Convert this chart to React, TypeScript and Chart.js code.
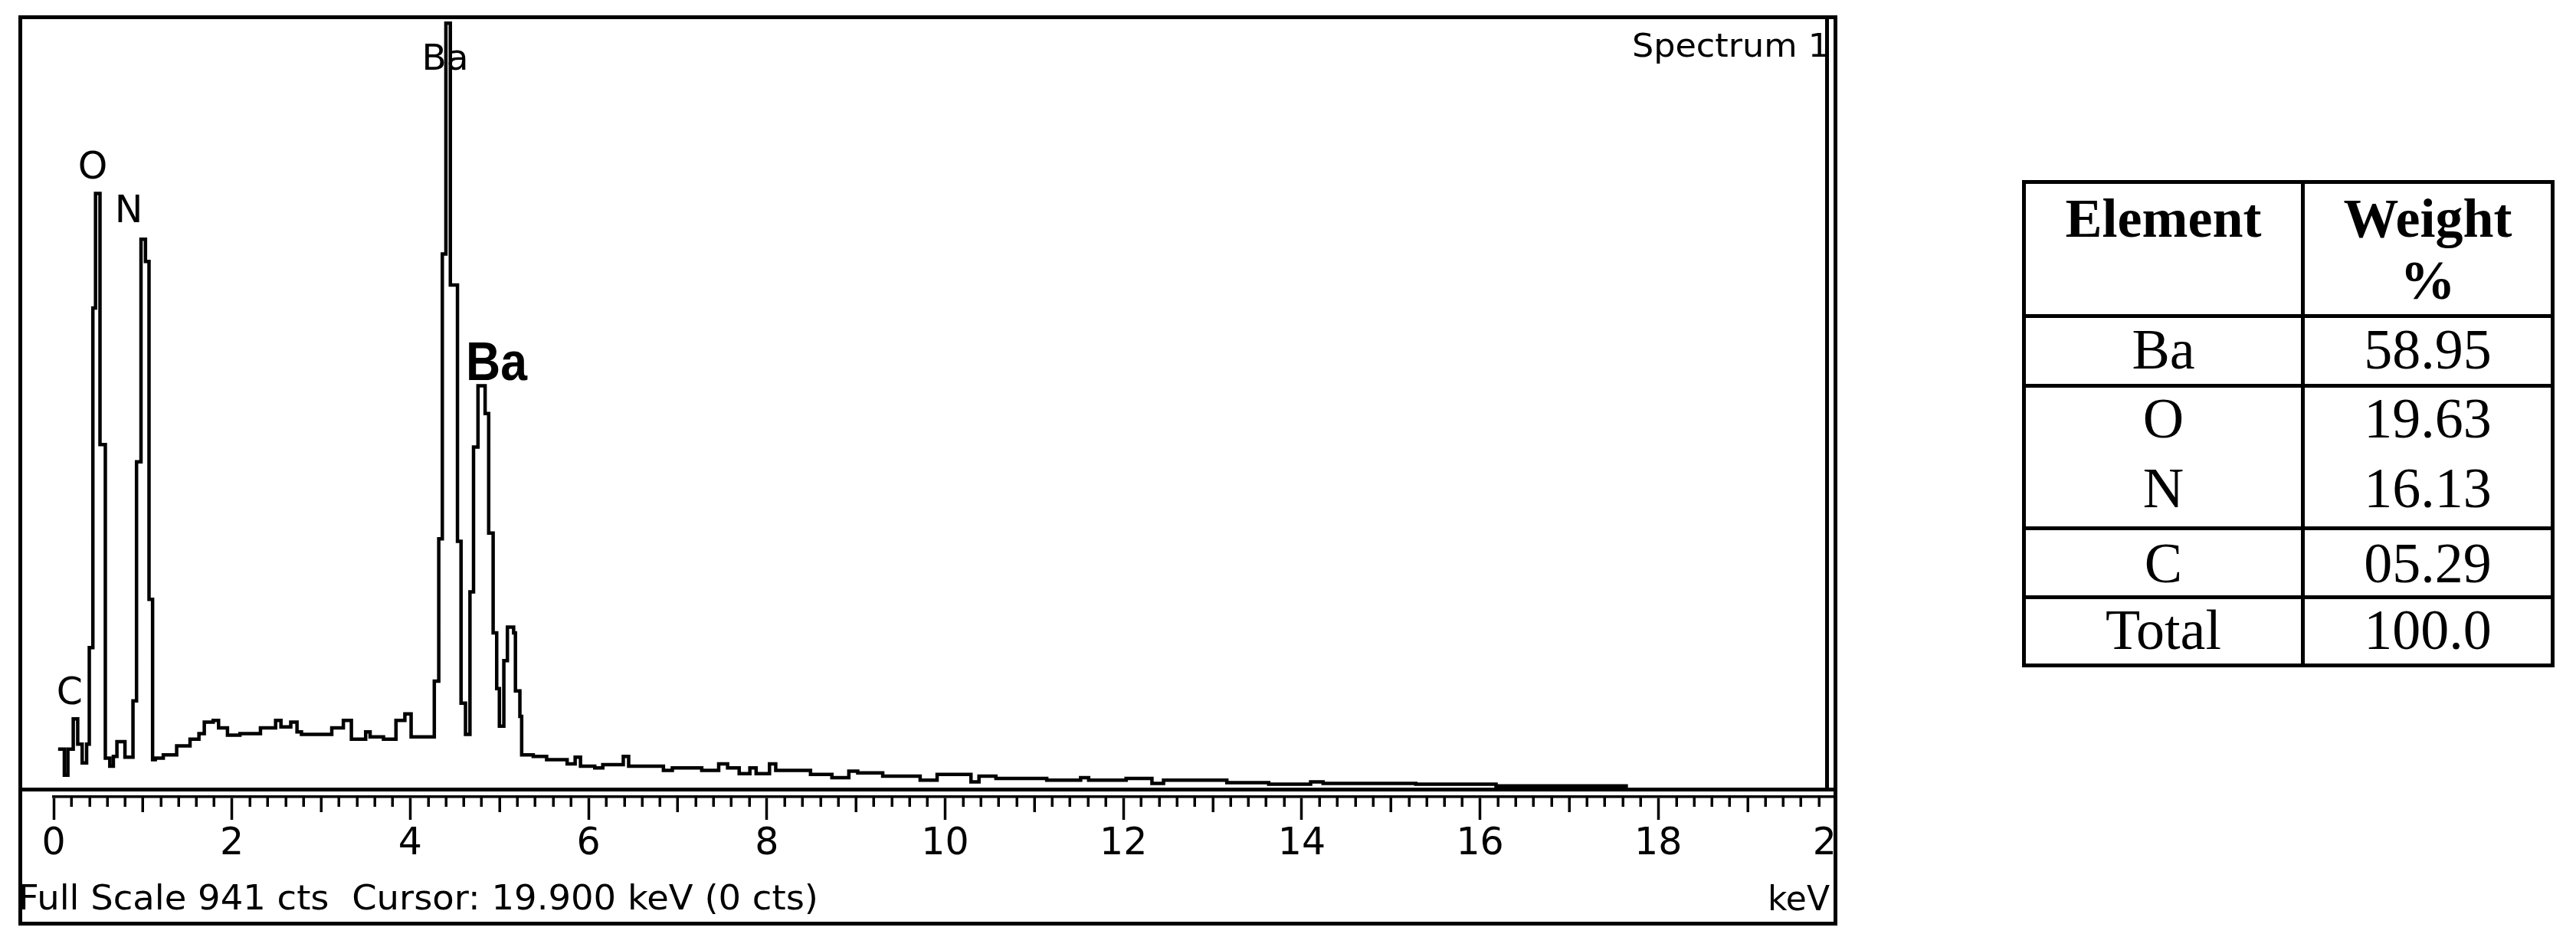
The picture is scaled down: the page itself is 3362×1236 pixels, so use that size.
import React, { useEffect, useRef } from 'react';
import { Chart, registerables } from 'chart.js';

Chart.register(...registerables);

// ---------- data ----------
const energyKeV = [
  0.05, 0.12, 0.16, 0.22, 0.27, 0.32, 0.37, 0.40, 0.44, 0.47,
  0.52, 0.58, 0.63, 0.67, 0.71, 0.80, 0.89, 0.93, 0.98, 1.03,
  1.07, 1.11, 1.14, 1.23, 1.38, 1.53, 1.63, 1.69, 1.79, 1.85,
  1.95, 2.09, 2.32, 2.49, 2.55, 2.66, 2.73, 2.78, 3.12, 3.25,
  3.34, 3.50, 3.55, 3.70, 3.84, 3.94, 4.01, 4.27, 4.32, 4.36,
  4.40, 4.45, 4.53, 4.57, 4.62, 4.67, 4.71, 4.76, 4.84, 4.88,
  4.93, 4.97, 5.00, 5.05, 5.09, 5.16, 5.18, 5.23, 5.25, 5.38,
  5.53, 5.76, 5.85, 5.91, 6.07, 6.16, 6.39, 6.45, 6.84, 6.94,
  7.27, 7.46, 7.56, 7.69, 7.81, 7.88, 8.03, 8.10, 8.49, 8.73,
  8.92, 9.02, 9.30, 9.72, 9.91, 10.29, 10.38, 10.57, 11.14, 11.52,
  11.61, 12.03, 12.32, 12.45, 13.16, 13.63, 14.10, 14.24, 15.28, 16.18,
  17.64,
];
const countsCts = [
  49, 17, 49, 86, 55, 32, 55, 173, 588, 728,
  421, 38, 28, 40, 58, 39, 108, 400, 672, 645,
  232, 36, 38, 42, 53, 61, 68, 82, 84, 75,
  66, 68, 75, 84, 76, 82, 70, 67, 75, 84,
  61, 70, 64, 61, 84, 92, 64, 132, 306, 654,
  936, 616, 303, 105, 67, 241, 418, 493, 459, 313,
  191, 123, 77, 157, 198, 191, 120, 89, 42, 40,
  36, 31, 39, 28, 26, 30, 40, 28, 23, 26,
  23, 31, 26, 19, 26, 19, 31, 23, 18, 14,
  22, 20, 16, 11, 18, 9, 16, 13, 11, 14,
  11, 13, 7, 11, 8, 6, 9, 7, 6, 4,
  0,
];
const fullScaleCts = 941;
const axisMinKeV = 0;
const axisMaxKeV = 20;
const majorStepKeV = 2;
const minorStepKeV = 0.2;

const peakLabels = ['C', 'O', 'N', 'Ba'];
const peakLabelKeV = [0.18, 0.438, 0.842, 4.392];
const peakLabelCts = [104, 746, 693, 879];
const boldLabel = 'Ba';
const boldLabelKeV = 4.968;
const boldLabelCts = 500;

const spectrumTitle = 'Spectrum 1';
const statusText = 'Full Scale 941 cts  Cursor: 19.900 keV (0 cts)';
const unitText = 'keV';

const tableHeader = ['Element', 'Weight', '%'];
const tableElements = ['Ba', 'O', 'N', 'C', 'Total'];
const tableWeights = ['58.95', '19.63', '16.13', '05.29', '100.0'];

// ---------- layout ----------
const W = 3362;
const H = 1236;

function drawText(
  ctx: CanvasRenderingContext2D,
  text: string,
  x: number,
  y: number,
  font: string,
  align: CanvasTextAlign,
  targetWidth?: number
) {
  ctx.save();
  ctx.font = font;
  ctx.fillStyle = '#000';
  ctx.textBaseline = 'alphabetic';
  ctx.textAlign = align;
  const w = ctx.measureText(text).width;
  const sx = targetWidth ? targetWidth / w : 1;
  ctx.translate(x, y);
  ctx.scale(sx, 1);
  ctx.fillText(text, 0, 0);
  ctx.restore();
}

const framePlugin = {
  id: 'edsFrame',
  afterDraw(chart: any) {
    const ctx: CanvasRenderingContext2D = chart.ctx;
    const xs = chart.scales.x;
    const ys = chart.scales.y;
    const area = chart.chartArea;
    ctx.save();

    // minor ticks
    ctx.strokeStyle = '#000';
    ctx.lineWidth = 3.5;
    const n = Math.round((axisMaxKeV - axisMinKeV) / minorStepKeV);
    for (let i = 1; i < n; i++) {
      if (i % 10 === 0) continue;
      const px = Math.round(xs.getPixelForValue(axisMinKeV + i * minorStepKeV)) + 0.25;
      const len = i % 5 === 0 ? 20 : 13;
      ctx.beginPath();
      ctx.moveTo(px, area.bottom);
      ctx.lineTo(px, area.bottom + len);
      ctx.stroke();
    }

    // cover beyond the frame
    ctx.fillStyle = '#fff';
    ctx.fillRect(2398, 0, W - 2398, H);

    // texts
    const sep = ys.getPixelForValue(0);
    for (let i = 0; i < peakLabels.length; i++) {
      drawText(
        ctx,
        peakLabels[i],
        xs.getPixelForValue(peakLabelKeV[i]),
        ys.getPixelForValue(peakLabelCts[i]),
        peakLabels[i] === 'Ba' ? '47px "DejaVu Sans"' : '49px "DejaVu Sans"',
        'center'
      );
    }
    drawText(
      ctx,
      boldLabel,
      xs.getPixelForValue(boldLabelKeV),
      ys.getPixelForValue(boldLabelCts),
      'bold 70px "Liberation Sans"',
      'center',
      80
    );

    ctx.save();
    ctx.beginPath();
    ctx.rect(0, 0, 2382, H);
    ctx.clip();
    drawText(ctx, spectrumTitle, 2130, 74, '42px "DejaVu Sans"', 'left', 258);
    ctx.restore();

    drawText(ctx, statusText, 24, 1187, '44px "DejaVu Sans"', 'left', 1044);
    drawText(ctx, unitText, 2388, 1188, '44px "DejaVu Sans"', 'right');

    // frame lines
    ctx.strokeStyle = '#000';
    ctx.lineWidth = 5;
    ctx.strokeRect(26.5, 22.5, 2369, 1183);
    ctx.beginPath();
    ctx.moveTo(26.5, sep + 0.5);
    ctx.lineTo(2395.5, sep + 0.5);
    ctx.moveTo(2384.5, 22.5);
    ctx.lineTo(2384.5, sep + 0.5);
    ctx.stroke();

    ctx.restore();
  },
};

function WeightTable() {
  const base: React.CSSProperties = {
    position: 'absolute',
    whiteSpace: 'nowrap',
    textAlign: 'center',
  };
  const col = [
    { left: 0, width: 359 },
    { left: 364, width: 321 },
  ];
  const bodyTops = [179, 268.5, 360, 458, 545];
  const rowLines = [170, 261, 447, 537];
  const bodySize = 74;
  const headSize = 72;
  return (
    <div
      style={{
        position: 'absolute',
        left: 2639,
        top: 235,
        width: 695,
        height: 636,
        border: '5px solid #000',
        boxSizing: 'border-box',
        fontFamily: '"Liberation Serif", "Times New Roman", serif',
        color: '#000',
        background: '#fff',
      }}
    >
      <div style={{ position: 'absolute', left: 359, top: 0, width: 5, height: 626, background: '#000' }} />
      {rowLines.map((t, i) => (
        <div key={'r' + i} style={{ position: 'absolute', left: 0, top: t, width: 685, height: 5, background: '#000' }} />
      ))}
      <div style={{ ...base, left: col[0].left, width: col[0].width, top: 9, fontSize: headSize, lineHeight: headSize + 'px', fontWeight: 700 }}>
        {tableHeader[0]}
      </div>
      <div style={{ ...base, left: col[1].left, width: col[1].width, top: 9, fontSize: headSize, lineHeight: headSize + 'px', fontWeight: 700 }}>
        {tableHeader[1]}
      </div>
      <div style={{ ...base, left: col[1].left, width: col[1].width, top: 90, fontSize: headSize, lineHeight: headSize + 'px', fontWeight: 700 }}>
        {tableHeader[2]}
      </div>
      {tableElements.map((el, i) => (
        <React.Fragment key={el}>
          <div style={{ ...base, left: col[0].left, width: col[0].width, top: bodyTops[i], fontSize: bodySize, lineHeight: bodySize + 'px' }}>
            {el}
          </div>
          <div style={{ ...base, left: col[1].left, width: col[1].width, top: bodyTops[i], fontSize: bodySize, lineHeight: bodySize + 'px' }}>
            {tableWeights[i]}
          </div>
        </React.Fragment>
      ))}
    </div>
  );
}

export default function App() {
  const ref = useRef<HTMLCanvasElement>(null);
  useEffect(() => {
    const canvas = ref.current;
    if (!canvas) return;
    const points = energyKeV.map((e, i) => ({ x: e, y: countsCts[i] }));
    const chart = new Chart(canvas, {
      type: 'line',
      data: {
        datasets: [
          {
            data: points,
            borderColor: '#000',
            borderWidth: 4.5,
            pointRadius: 0,
            stepped: 'before',
            fill: false,
            tension: 0,
            borderJoinStyle: 'miter',
            borderCapStyle: 'butt',
          } as any,
        ],
      },
      options: {
        animation: false,
        responsive: false,
        devicePixelRatio: 1,
        events: [],
        layout: { padding: { left: 70, right: W - 2397, top: 25, bottom: 0 } },
        plugins: { legend: { display: false }, tooltip: { enabled: false } },
        scales: {
          x: {
            type: 'linear',
            position: 'bottom',
            min: axisMinKeV,
            max: axisMaxKeV,
            afterFit: (s: any) => {
              s.height = H - 1040;
            },
            ticks: {
              stepSize: majorStepKeV,
              autoSkip: false,
              maxRotation: 0,
              minRotation: 0,
              padding: 3,
              color: '#000',
              font: { family: 'DejaVu Sans', size: 49 },
              callback: (v: any) => String(v),
            },
            grid: {
              drawOnChartArea: false,
              drawTicks: true,
              tickLength: 30,
              tickWidth: 3.5,
              tickColor: '#000',
            },
            border: { display: true, color: '#000', width: 3.5 },
          },
          y: {
            type: 'linear',
            min: -9.36,
            max: fullScaleCts,
            display: false,
          },
        },
      } as any,
      plugins: [framePlugin],
    });
    return () => chart.destroy();
  }, []);
  return (
    <div style={{ position: 'absolute', left: 0, top: 0, width: W, height: H, background: '#fff', overflow: 'hidden' }}>
      <canvas ref={ref} width={W} height={H} style={{ position: 'absolute', left: 0, top: 0, width: W, height: H }} />
      <WeightTable />
    </div>
  );
}
